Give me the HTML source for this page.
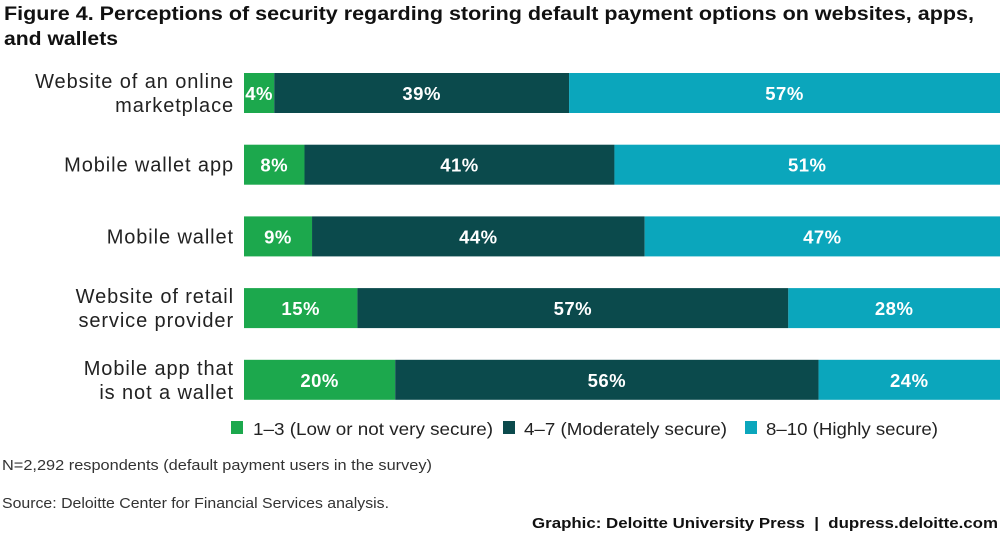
<!DOCTYPE html>
<html><head><meta charset="utf-8"><style>
body{margin:0;background:#fff;width:1000px;height:535px;overflow:hidden;font-family:"Liberation Sans",sans-serif;}
</style></head><body>
<svg width="1000" height="535" xmlns="http://www.w3.org/2000/svg">
<text x="4" y="20" font-size="19" font-weight="bold" fill="#111" textLength="970" lengthAdjust="spacingAndGlyphs">Figure 4. Perceptions of security regarding storing default payment options on websites, apps,</text>
<text x="4" y="45" font-size="19" font-weight="bold" fill="#111" textLength="114" lengthAdjust="spacingAndGlyphs">and wallets</text>
<g id="bars"></g>
<g>
<rect x="231" y="421" width="12" height="13" fill="#1ca84d"/>
<text x="253" y="435" font-size="17.5" fill="#222" textLength="240" lengthAdjust="spacingAndGlyphs">1–3 (Low or not very secure)</text>
<rect x="503" y="421" width="12" height="13" fill="#0b4a4c"/>
<text x="524" y="435" font-size="17.5" fill="#222" textLength="203" lengthAdjust="spacingAndGlyphs">4–7 (Moderately secure)</text>
<rect x="745" y="421" width="12" height="13" fill="#0ba6bc"/>
<text x="766" y="435" font-size="17.5" fill="#222" textLength="172" lengthAdjust="spacingAndGlyphs">8–10 (Highly secure)</text>
</g>
<text x="2" y="470" font-size="14.5" fill="#333" textLength="430" lengthAdjust="spacingAndGlyphs">N=2,292 respondents (default payment users in the survey)</text>
<text x="2" y="508" font-size="14.5" fill="#333" textLength="387" lengthAdjust="spacingAndGlyphs">Source: Deloitte Center for Financial Services analysis.</text>
<text x="532" y="528" font-size="14.5" font-weight="bold" fill="#111" textLength="466" lengthAdjust="spacingAndGlyphs" xml:space="preserve">Graphic: Deloitte University Press  |  dupress.deloitte.com</text>
</svg>
<script>
const categories=[["Website of an online","marketplace"],["Mobile wallet app"],["Mobile wallet"],["Website of retail","service provider"],["Mobile app that","is not a wallet"]];
const low=[4,8,9,15,20];
const moderate=[39,41,44,57,56];
const high=[57,51,47,28,24];
const colors=["#1ca84d","#0b4a4c","#0ba6bc"];
const segNames=["low","moderate","high"];
const x0=244,x1=1000,firstC=93,step=71.7,bh=40;
const xs=v=>v*(x1-x0)/100;
const ys=i=>firstC+i*step;
const g=document.getElementById('bars');
const NS="http://www.w3.org/2000/svg";
categories.forEach((c,i)=>{
  const cy=ys(i);
  const lab=document.createElementNS(NS,'text');
  
  
  lab.setAttribute('text-anchor','end');lab.setAttribute('font-size','20');lab.setAttribute('fill','#222');
  lab.setAttribute('letter-spacing','0.9');
  const n=c.length;
  c.forEach((line,j)=>{const t=document.createElementNS(NS,'tspan');t.setAttribute('x',234);t.setAttribute('y',cy+7+(j-(n-1)/2)*24);t.textContent=line;lab.appendChild(t);});
  g.appendChild(lab);
  let acc=0;
  [low[i],moderate[i],high[i]].forEach((v,k)=>{
    const r=document.createElementNS(NS,'rect');
    
    
    r.setAttribute('x',x0+xs(acc));r.setAttribute('y',cy-bh/2);r.setAttribute('width',xs(v));r.setAttribute('height',bh);r.setAttribute('fill',colors[k]);
    g.appendChild(r);
    const t=document.createElementNS(NS,'text');
    
    
    t.setAttribute('x',x0+xs(acc+v/2));t.setAttribute('y',cy+7);t.setAttribute('text-anchor','middle');
    t.setAttribute('font-size','18.5');t.setAttribute('font-weight','bold');t.setAttribute('fill','#fff');t.setAttribute('letter-spacing','0.5');
    t.textContent=v+'%';g.appendChild(t);
    acc+=v;
  });
});
</script>
</body></html>
